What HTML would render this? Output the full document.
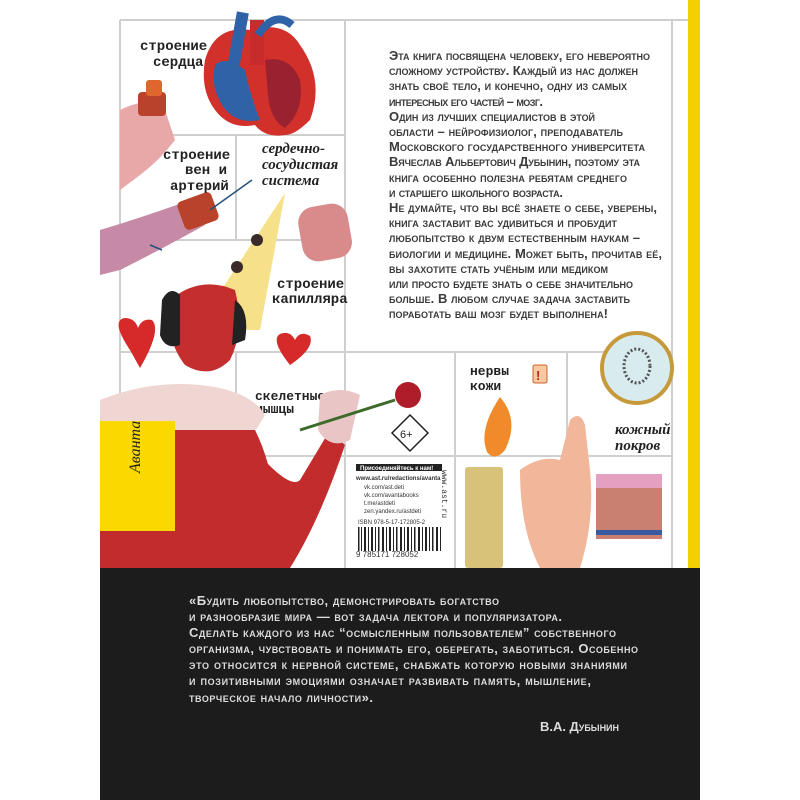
<!DOCTYPE html>
<html><head><meta charset="utf-8"><style>
html,body{margin:0;padding:0;background:#fff;}
svg{display:block;}
.t{font-family:"Liberation Sans","Noto Sans CJK SC",sans-serif;font-variant:small-caps;font-size:13px;font-weight:bold;fill:#3a3a3a;}
.q{font-family:"Liberation Sans","Noto Sans CJK SC",sans-serif;font-variant:small-caps;font-size:13px;font-weight:bold;fill:#dcdcdc;}
.m{font-family:"Liberation Mono","DejaVu Sans Mono",monospace;font-size:14px;fill:#222;font-weight:bold;}
.i{font-family:"Liberation Serif",serif;font-style:italic;font-weight:bold;font-size:15px;fill:#222;}
</style></head><body>
<svg width="800" height="800" viewBox="0 0 800 800" xmlns="http://www.w3.org/2000/svg">
<rect width="800" height="800" fill="#fff"/>
<rect x="688" y="0" width="12" height="568" fill="#f5d000"/>
<g stroke="#cfcfcf" stroke-width="2" fill="none">
<line x1="120" y1="20" x2="688" y2="20"/>
<line x1="120" y1="20" x2="120" y2="568"/>
<line x1="236" y1="135" x2="236" y2="240"/>
<line x1="345" y1="20" x2="345" y2="568"/>
<line x1="672" y1="20" x2="672" y2="568"/>
<line x1="120" y1="135" x2="345" y2="135"/>
<line x1="120" y1="240" x2="345" y2="240"/>
<line x1="120" y1="352" x2="672" y2="352"/>
<line x1="120" y1="456" x2="672" y2="456"/>
<line x1="455" y1="352" x2="455" y2="568"/>
<line x1="567" y1="352" x2="567" y2="568"/>
<line x1="236" y1="352" x2="236" y2="456"/>
</g>
<path d="M205 60 Q215 25 250 30 Q285 20 300 45 Q325 80 310 120 Q295 135 285 135 Q265 138 255 125 Q230 130 215 110 Q200 90 205 60Z" fill="#d2312b"/>
<path d="M215 65 Q225 55 245 70 Q250 95 260 120 Q235 125 222 105 Q210 85 215 65Z" fill="#2f62a6"/>
<path d="M265 60 Q290 55 300 80 Q305 110 285 128 Q270 120 268 95Z" fill="#9a2230"/>
<rect x="232" y="12" width="12" height="55" fill="#2f62a6" transform="rotate(10 238 40)"/>
<rect x="250" y="20" width="14" height="45" fill="#c82b2b"/>
<path d="M258 35 Q275 10 292 25" stroke="#2f62a6" stroke-width="8" fill="none"/>
<path d="M120 110 Q150 95 165 110 L175 140 Q160 160 140 175 L120 190Z" fill="#e8a8a8"/>
<rect x="138" y="92" width="28" height="24" rx="4" fill="#b8432a"/>
<rect x="146" y="80" width="16" height="16" rx="3" fill="#e0662b"/>
<path d="M100 230 Q150 215 190 200 L205 225 Q160 250 120 270 L100 275Z" fill="#c68aa6"/>
<rect x="180" y="196" width="36" height="30" rx="5" fill="#b8432a" transform="rotate(-20 198 211)"/>
<line x1="210" y1="210" x2="252" y2="180" stroke="#25507a" stroke-width="1.5"/>
<path d="M150 245 L162 250" stroke="#25507a" stroke-width="1.5"/>
<text x="140" y="50" class="m">строение</text>
<text x="153" y="66" class="m">сердца</text>
<text x="163" y="159" class="m">строение</text>
<text x="185" y="174" class="m">вен и</text>
<text x="170" y="190" class="m">артерий</text>
<text x="262" y="153" class="i">сердечно-</text>
<text x="262" y="169" class="i">сосудистая</text>
<text x="262" y="185" class="i">система</text>
<text x="277" y="288" class="m">строение</text>
<text x="272" y="303" class="m">капилляра</text>
<text x="255" y="400" class="m" style="font-size:13px">скелетные</text>
<text x="255" y="413" class="m" style="font-size:13px">мышцы</text>
<text x="470" y="375" class="m" style="font-size:13px">нервы</text>
<text x="470" y="390" class="m" style="font-size:13px">кожи</text>
<text x="615" y="434" class="i">кожный</text>
<text x="615" y="450" class="i">покров</text>
<rect x="300" y="205" width="50" height="55" rx="16" fill="#d98a8a" transform="rotate(-10 325 232)"/>
<path d="M285 193 L195 330 L260 330Z" fill="#f7e08a"/>
<circle cx="257" cy="240" r="6" fill="#3a2a2a"/>
<circle cx="237" cy="267" r="6" fill="#3a2a2a"/>
<path d="M130 350 Q110 320 125 318 Q135 318 138 328 Q142 318 152 320 Q162 330 140 368Z" fill="#d62a2a"/>
<path d="M290 365 Q270 340 280 334 Q290 330 295 340 Q300 330 310 336 Q315 348 290 365Z" fill="#d62a2a"/>
<path d="M170 300 Q200 275 235 290 Q245 330 230 360 Q210 380 185 365 Q165 340 170 300Z" fill="#c42e2e"/>
<path d="M162 300 Q170 285 180 295 L180 345 Q165 350 160 335Z" fill="#222"/>
<path d="M235 300 Q250 310 245 340 L232 345Z" fill="#222"/>
<path d="M100 400 Q150 380 200 385 Q250 390 265 415 L250 440 L100 440Z" fill="#f0d6d2"/>
<path d="M100 430 L255 430 Q270 460 275 500 L265 568 L100 568Z" fill="#c32c2c"/>
<path d="M255 450 Q290 490 300 480 L330 430 L345 445 Q320 520 290 568 L250 568Z" fill="#c32c2c"/>
<path d="M320 395 Q340 385 360 395 L350 440 Q330 450 318 430Z" fill="#e9c5c5"/>
<line x1="300" y1="430" x2="395" y2="400" stroke="#3e6b2a" stroke-width="3"/>
<circle cx="408" cy="395" r="13" fill="#b01d2a"/>
<path d="M410 415 L428 433 L410 451 L392 433Z" fill="#fff" stroke="#222" stroke-width="1.5"/>
<text x="400" y="438" style="font-family:'Liberation Sans',sans-serif;font-size:11px;fill:#222">6+</text>
<rect x="356" y="464" width="86" height="7" fill="#222"/>
<text x="360" y="470" style="font-family:'Liberation Sans',sans-serif;font-size:6px;font-weight:bold;fill:#fff">Присоединяйтесь к нам!</text>
<g style="font-family:'Liberation Sans',sans-serif;font-size:6px;fill:#333">
<text x="356" y="480" font-weight="bold">www.ast.ru/redactions/avanta</text>
<text x="364" y="489">vk.com/ast.deti</text>
<text x="364" y="497">vk.com/avantabooks</text>
<text x="364" y="505">t.me/astdeti</text>
<text x="364" y="513">zen.yandex.ru/astdeti</text>
<text x="358" y="524">ISBN 978-5-17-172805-2</text>
<text x="356" y="557" font-size="8">9 785171 728052</text>
</g>
<g fill="#222">
<rect x="358" y="527" width="1.5" height="24"/><rect x="361" y="527" width="1" height="24"/><rect x="364" y="527" width="2" height="24"/><rect x="368" y="527" width="1" height="24"/><rect x="371" y="527" width="2" height="24"/><rect x="375" y="527" width="1" height="24"/><rect x="378" y="527" width="1.5" height="24"/><rect x="382" y="527" width="2" height="24"/><rect x="386" y="527" width="1" height="24"/><rect x="389" y="527" width="2" height="24"/><rect x="393" y="527" width="1" height="24"/><rect x="396" y="527" width="1.5" height="24"/><rect x="400" y="527" width="2" height="24"/><rect x="404" y="527" width="1" height="24"/><rect x="407" y="527" width="2" height="24"/><rect x="411" y="527" width="1" height="24"/><rect x="414" y="527" width="1.5" height="24"/><rect x="418" y="527" width="2" height="24"/><rect x="422" y="527" width="1" height="24"/><rect x="425" y="527" width="2" height="24"/><rect x="429" y="527" width="1" height="24"/><rect x="432" y="527" width="1.5" height="24"/><rect x="436" y="527" width="2" height="24"/><rect x="440" y="527" width="1" height="24"/>
</g>
<text x="442" y="470" transform="rotate(90 442 470)" style="font-family:'Liberation Mono',monospace;font-size:8px;fill:#333">www.ast.ru</text>
<path d="M500 397 Q520 420 505 450 Q495 462 487 452 Q478 430 500 397Z" fill="#f08a2a"/>
<rect x="465" y="467" width="38" height="101" rx="3" fill="#d8c27a"/>
<rect x="533" y="365" width="14" height="18" rx="2" fill="#f6c9a0" stroke="#d0602a"/>
<text x="536" y="380" style="font-family:'Liberation Sans',sans-serif;font-size:13px;font-weight:bold;fill:#c02020">!</text>
<path d="M520 470 Q540 455 560 460 L570 420 Q580 410 585 425 L590 470 Q595 520 580 568 L540 568 Q520 530 520 470Z" fill="#f2b79a"/>
<circle cx="637" cy="368" r="35" fill="#d8ecf0" stroke="#c69a3a" stroke-width="4"/>
<ellipse cx="637" cy="366" rx="13" ry="17" fill="none" stroke="#555" stroke-width="3" stroke-dasharray="2 2"/>
<rect x="596" y="474" width="66" height="65" fill="#c98070"/>
<rect x="596" y="474" width="66" height="14" fill="#e3a0c0"/>
<rect x="596" y="530" width="66" height="5" fill="#3a5aa0"/>
<rect x="100" y="421" width="75" height="110" fill="#fbd800"/>
<text x="145" y="478" transform="rotate(-90 140 478)" style="font-family:'Liberation Serif',serif;font-style:italic;font-size:16px;fill:#222">Аванта</text>
<g class="t">
<text x="389" y="60" textLength="261">Эта книга посвящена человеку, его невероятно</text>
<text x="389" y="75" textLength="249">сложному устройству. Каждый из нас должен</text>
<text x="389" y="90" textLength="238">знать своё тело, и конечно, одну из самых</text>
<text x="389" y="106" textLength="154">интересных его частей – мозг.</text>
<text x="389" y="121" textLength="206">Один из лучших специалистов в этой</text>
<text x="389" y="136" textLength="234">области – нейрофизиолог, преподаватель</text>
<text x="389" y="151" textLength="256">Московского государственного университета</text>
<text x="389" y="166" textLength="251">Вячеслав Альбертович Дубынин, поэтому эта</text>
<text x="389" y="182" textLength="238">книга особенно полезна ребятам среднего</text>
<text x="389" y="197" textLength="174">и старшего школьного возраста.</text>
<text x="389" y="212" textLength="268">Не думайте, что вы всё знаете о себе, уверены,</text>
<text x="389" y="227" textLength="228">книга заставит вас удивиться и пробудит</text>
<text x="389" y="242" textLength="251">любопытство к двум естественным наукам –</text>
<text x="389" y="258" textLength="273">биологии и медицине. Может быть, прочитав её,</text>
<text x="389" y="273" textLength="219">вы захотите стать учёным или медиком</text>
<text x="389" y="288" textLength="244">или просто будете знать о себе значительно</text>
<text x="389" y="303" textLength="241">больше. В любом случае задача заставить</text>
<text x="389" y="318" textLength="219">поработать ваш мозг будет выполнена!</text>
</g>
<rect x="100" y="568" width="600" height="232" fill="#1c1c1c"/>
<g class="q">
<text x="189" y="605" textLength="310">«Будить любопытство, демонстрировать богатство</text>
<text x="189" y="621" textLength="373">и разнообразие мира — вот задача лектора и популяризатора.</text>
<text x="189" y="637" textLength="427">Сделать каждого из нас “осмысленным пользователем” собственного</text>
<text x="189" y="653" textLength="449">организма, чувствовать и понимать его, оберегать, заботиться. Особенно</text>
<text x="189" y="669" textLength="438">это относится к нервной системе, снабжать которую новыми знаниями</text>
<text x="189" y="685" textLength="402">и позитивными эмоциями означает развивать память, мышление,</text>
<text x="189" y="702" textLength="184">творческое начало личности».</text>
<text x="540" y="731" textLength="79">В.А. Дубынин</text>
</g>
</svg>
</body></html>
